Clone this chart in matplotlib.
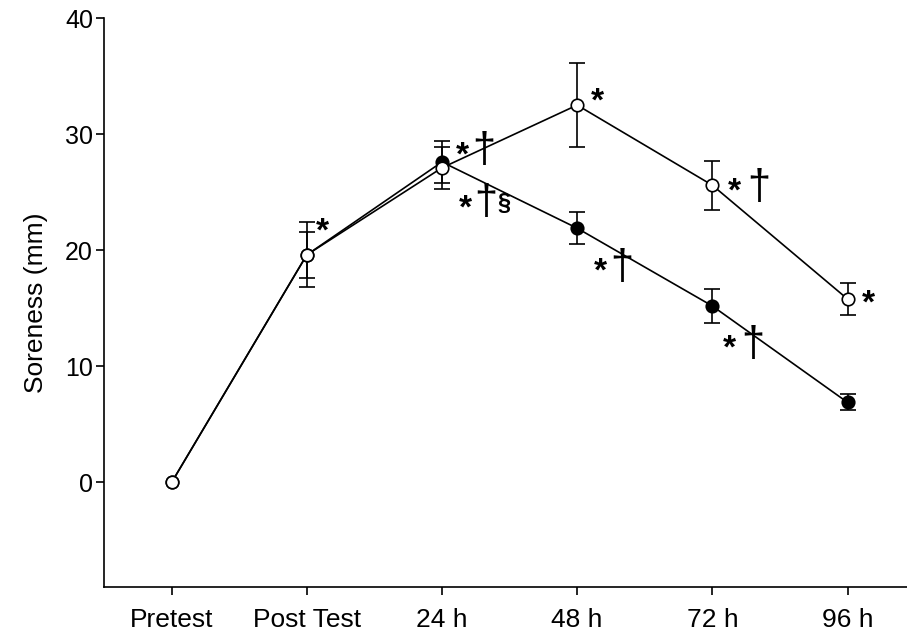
import matplotlib
matplotlib.use('Agg')
import matplotlib.pyplot as plt
import numpy as np

categories = ['Pretest', 'Post Test', '24 h', '48 h', '72 h', '96 h']
filled_mean = [0.0, 19.6, 27.6, 21.9, 15.2, 6.9]
filled_err = [0.0, 2.8, 1.8, 1.4, 1.5, 0.7]
open_mean = [0.0, 19.6, 27.1, 32.5, 25.6, 15.8]
open_err = [0.0, 2.0, 1.8, 3.6, 2.1, 1.4]
y_ticks = [0, 10, 20, 30, 40]

# significance symbols: (series, category index, glyph, dx px, dy px of glyph ink centre)
marks = [
    ('open', 1, '*', 16, 33),
    ('filled', 2, '*', 20, 17), ('filled', 2, '\u2020', 42, 12),
    ('open', 2, '*', 23, -31), ('open', 2, '\u2020', 44, -34), ('open', 2, '\u00a7', 62, -36),
    ('open', 3, '*', 20, 14),
    ('filled', 3, '*', 23, -33), ('filled', 3, '\u2020', 45, -39),
    ('open', 4, '*', 22, 4), ('open', 4, '\u2020', 46, -2),
    ('filled', 4, '*', 17, -32), ('filled', 4, '\u2020', 40, -38),
    ('open', 5, '*', 21, 6),
]
glyph_size = {'*': 24, '\u2020': 30, '\u00a7': 17}
glyph_weight = {'*': 'bold', '\u2020': 'normal', '\u00a7': 'bold'}
# offset of glyph ink centre above the centre of the text line box (in em)
glyph_raise = {'*': 0.32, '\u2020': 0.02, '\u00a7': 0.0}

plt.rcParams['font.family'] = ['Liberation Sans', 'DejaVu Sans']

fig = plt.figure(figsize=(9.07, 6.35), dpi=100)
ax = fig.add_axes([104/907, 48/635, 1 - 104/907, (587-18)/635])

x = np.arange(len(categories))
fm = np.array(filled_mean); fe = np.array(filled_err)
om = np.array(open_mean); oe = np.array(open_err)

ax.errorbar(x[1:], fm[1:], yerr=fe[1:], fmt='none', ecolor='black',
            elinewidth=1.2, capsize=6, capthick=1.2, zorder=2)
ax.plot(x, fm, '-o', color='black', lw=1.2, ms=9, mfc='black', mec='black',
        mew=1.2, zorder=3)
ax.errorbar(x[1:], om[1:], yerr=oe[1:], fmt='none', ecolor='black',
            elinewidth=1.2, capsize=6, capthick=1.2, zorder=4)
ax.plot(x, om, '-o', color='black', lw=1.2, ms=9, mfc='white', mec='black',
        mew=1.2, zorder=5)

series = {'filled': fm, 'open': om}
for s, i, g, dx, dy in marks:
    fs = glyph_size[g]
    em_px = fs * 100 / 72
    ax.annotate(g, xy=(x[i], series[s][i]), xytext=(dx, dy - glyph_raise[g] * em_px),
                textcoords='offset pixels', ha='center', va='center',
                fontsize=fs, fontweight=glyph_weight[g], zorder=6)

ax.set_xlim(-0.5, 5.44)
ax.set_ylim(-9, 40)
ax.set_xticks(x)
ax.set_xticklabels(categories, fontsize=19)
ax.set_yticks(y_ticks)
ax.tick_params(axis='y', labelsize=18, length=6, width=1.2, direction='out', pad=2)
ax.tick_params(axis='x', length=6, width=1.2, direction='out', pad=9)
ax.set_ylabel('Soreness (mm)', fontsize=19, labelpad=12)
for sp in ['top', 'right']:
    ax.spines[sp].set_visible(False)
for sp in ['left', 'bottom']:
    ax.spines[sp].set_linewidth(1.2)

fig.savefig('out.png', dpi=100)
